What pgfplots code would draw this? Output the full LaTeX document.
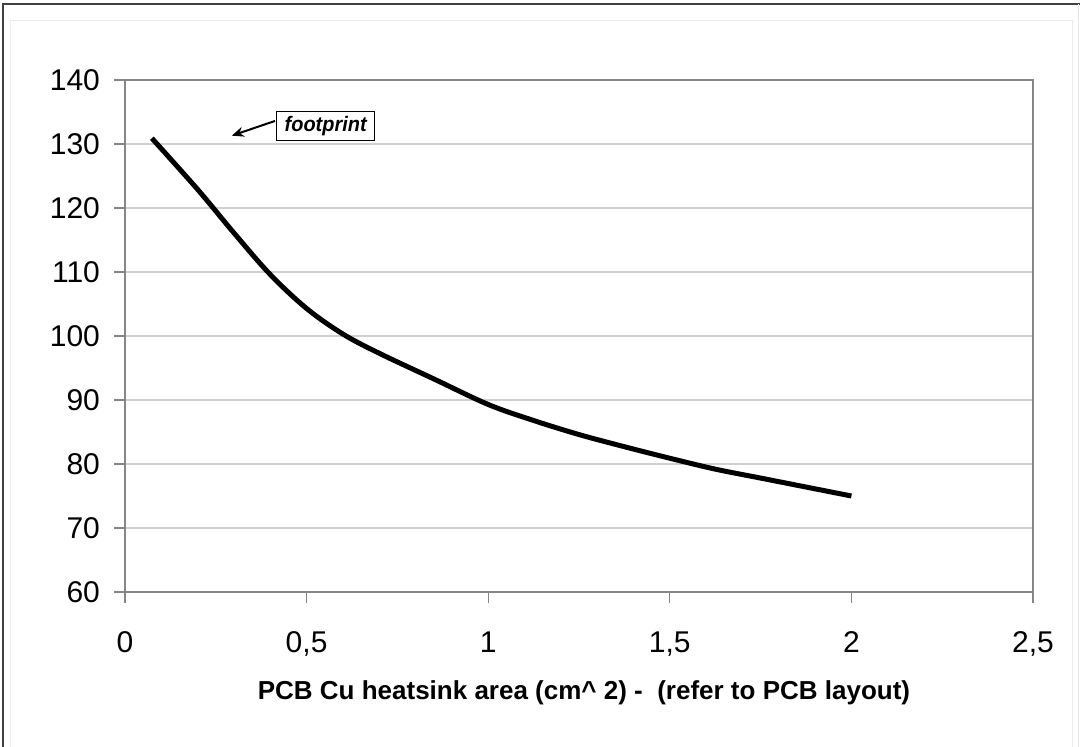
\documentclass[border=0pt]{standalone}
\usepackage{pgfplots}
\pgfplotsset{compat=1.18}
\usepackage{fontspec}
\setmainfont{Liberation Sans}
\newfontfamily\condensed[FakeStretch=0.95]{Liberation Sans}
\usetikzlibrary{arrows.meta}
\definecolor{axgray}{HTML}{868686}
\definecolor{gridgray}{HTML}{D0D0D0}
\begin{document}
\begin{tikzpicture}
\useasboundingbox (-62.5pt,-77.5pt) rectangle (477.5pt,296pt);
\draw[line width=1pt, black!75] (-60.75pt,-90pt) -- (-60.75pt,293.75pt) -- (477.5pt,293.75pt);
\draw[line width=0.5pt, black!10] (476.8pt,293.75pt) -- (476.8pt,-90pt);
\draw[line width=0.5pt, black!8] (-57pt,-90pt) -- (-57pt,285.5pt) -- (473.5pt,285.5pt) -- (473.5pt,-90pt);
\begin{axis}[
  at={(0,0)}, anchor=south west,
  scale only axis,
  width=454pt, height=256pt,
  xmin=0, xmax=2.5, ymin=60, ymax=140,
  xtick={0,0.5,1,1.5,2,2.5},
  ytick={60,70,80,90,100,110,120,130,140},
  xtick pos=bottom, ytick pos=left,
  /pgf/number format/use comma,
  /pgf/number format/assume math mode=true,
  ymajorgrids,
  major grid style={gridgray, line width=0.6pt},
  axis line style={axgray, line width=0.8pt},
  tick style={axgray, line width=0.6pt},
  tick align=outside,
  major tick length=5.5pt,
  xticklabel style={font=\fontsize{15}{16}\selectfont, yshift=-10pt, text height=11pt},
  yticklabel style={font=\fontsize{15}{16}\selectfont, xshift=-3.5pt},
  xlabel={\bfseries PCB Cu heatsink area (cm\textasciicircum\ 2) -\ \ (refer to PCB layout)},
  xlabel style={font=\fontsize{13}{15}\selectfont, at={(axis description cs:0.5,0)}, anchor=center, yshift=-50.5pt, xshift=2.5pt},
  clip=false,
]
\addplot[black, line width=2.5pt, smooth, tension=0.55] coordinates {
(0.074,130.9)
(0.2,122.9)
(0.3,116.1)
(0.4,109.6)
(0.5,104.3)
(0.6,100.3)
(0.7,97.3)
(0.85,93.3)
(1.0,89.3)
(1.125,86.8)
(1.25,84.6)
(1.375,82.7)
(1.5,80.9)
(1.625,79.2)
(1.75,77.8)
(1.875,76.4)
(2.0,75.0)
};
\draw[-{Stealth[length=6pt,width=5pt]}, line width=1pt] (axis cs:0.413,133.6) -- (axis cs:0.294,131.3);
\node[draw, line width=0.6pt, fill=white, inner sep=0pt, minimum width=49pt, minimum height=14.2pt, font=\condensed\fontsize{10.5}{12}\selectfont\bfseries\itshape] at (axis cs:0.5525,132.8) {footprint};
\end{axis}
\end{tikzpicture}
\end{document}
